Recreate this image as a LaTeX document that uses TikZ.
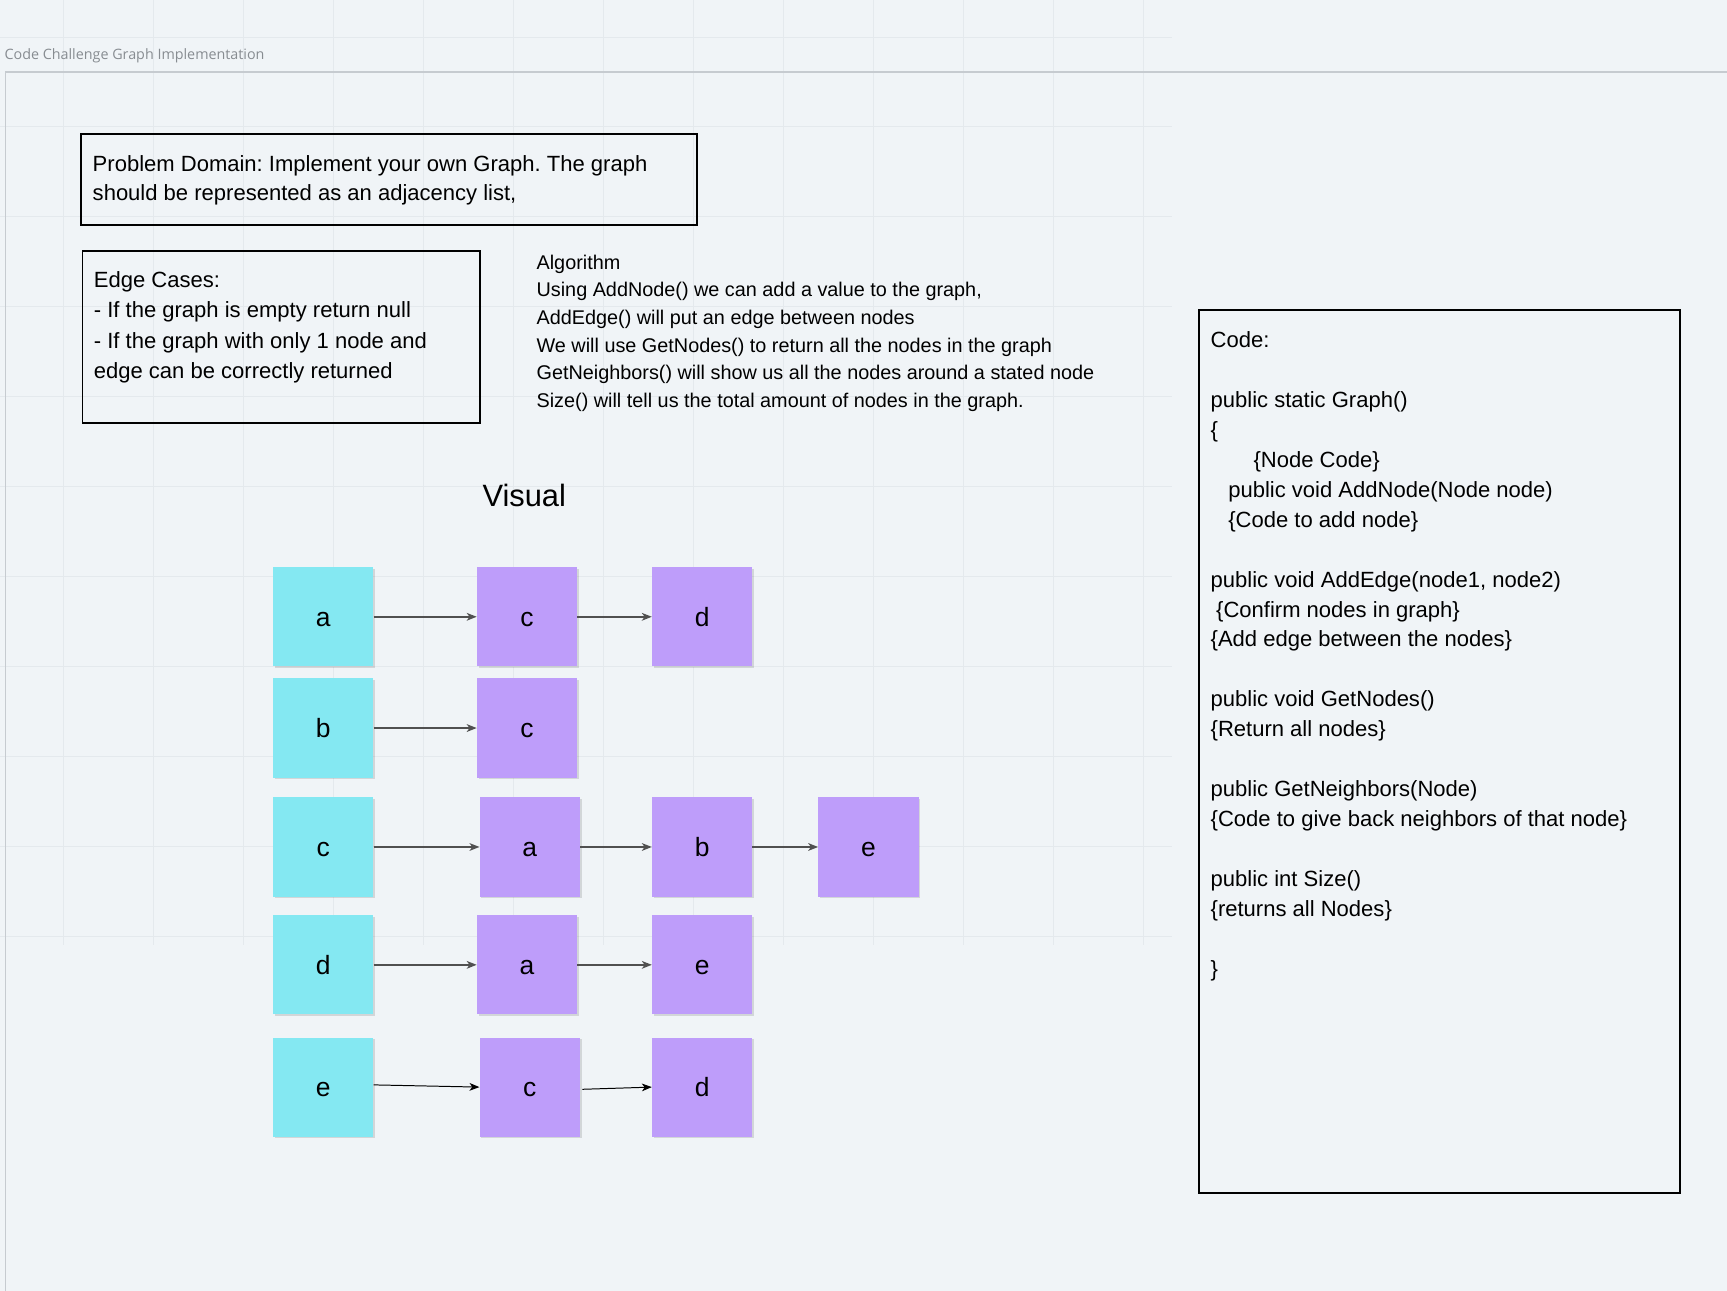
\documentclass[tikz,border=0pt]{standalone}
\usepackage{fontspec}
\setmainfont{Liberation Sans}
\newfontfamily\titlefont{Open Sans}
\usetikzlibrary{arrows.meta,shadows}
\definecolor{bg}{RGB}{240,244,247}
\definecolor{gridc}{RGB}{228,233,237}
\definecolor{framec}{RGB}{198,203,208}
\definecolor{titlec}{RGB}{135,140,145}
\definecolor{cyanbox}{RGB}{132,232,242}
\definecolor{purplebox}{RGB}{190,157,250}
\definecolor{arrowc}{RGB}{80,80,80}
\frenchspacing
\begin{document}
\begin{tikzpicture}[x=1pt,y=-1pt,
  gridline/.style={gridc, line width=0.9pt},
  framebox/.style={draw=black, line width=1.8pt, inner sep=0pt, anchor=north west},
  blocktext/.style={anchor=north west, inner sep=0pt, align=left},
  listnode/.style={minimum width=91pt, minimum height=90pt, inner sep=0pt,
    text height=17pt, text depth=0pt,
    font=\fontsize{24}{24}\selectfont,
    drop shadow={shadow xshift=1.5pt, shadow yshift=-1.5pt, opacity=0.12, fill=black}},
  keynode/.style={listnode, fill=cyanbox},
  valnode/.style={listnode, fill=purplebox},
  link/.style={draw=arrowc, line width=1.5pt, -{Stealth[length=9pt,width=7pt,inset=2.5pt]}},
  thinlink/.style={draw=black, line width=0.9pt, -{Stealth[length=9pt,width=7pt,inset=2.5pt]}}
]
\useasboundingbox (0,0) rectangle (1568,1172);
\fill[bg] (0,0) rectangle (1568,1172);
% faint grid
\foreach \i in {0,...,12} \draw[gridline] ({57.8+81.7*\i},0) -- ({57.8+81.7*\i},858);
\foreach \j in {0,...,10} \draw[gridline] (0,{33.6+81.7*\j}) -- (1064,{33.6+81.7*\j});
% frame
\draw[framec, line width=1.3pt] (5,1172) -- (5,65.4) -- (1568,65.4);
\node[anchor=base west, inner sep=0pt, font=\titlefont\fontsize{13}{13}\selectfont, text=titlec] (title) at (4,54) {Code Challenge Graph Implementation};

% problem domain
\node[framebox, minimum width=559pt, minimum height=82pt] (pdbox) at (73,121) {};
\node[blocktext, font=\fontsize{20}{27}\selectfont] (pdtext) at (84,140.7)
  {Problem Domain: Implement your own Graph. The graph\\should be represented as an adjacency list,};

% edge cases
\node[framebox, minimum width=361pt, minimum height=156pt] (ecbox) at (74,227) {};
\node[blocktext, font=\fontsize{20}{27.3}\selectfont] (ectext) at (85,246.7)
  {Edge Cases:\\- If the graph is empty return null\\- If the graph with only 1 node and\\edge can be correctly returned};

% algorithm
\node[blocktext, font=\fontsize{18}{25}\selectfont] (algo) at (487,231.4)
  {Algorithm\\Using AddNode() we can add a value to the graph,\\AddEdge() will put an edge between nodes\\We will use GetNodes() to return all the nodes in the graph\\GetNeighbors() will show us all the nodes around a stated node\\Size() will tell us the total amount of nodes in the graph.};

% code
\node[framebox, minimum width=436pt, minimum height=801pt] (codebox) at (1088,281) {};
\node[blocktext, font=\fontsize{20}{27.2}\selectfont] (code) at (1099,300.7)
  {Code:\\[27.2pt]
   public static Graph()\\
   \{\\
   \hspace*{39pt}\{Node Code\}\\
   \hspace*{16pt}public void AddNode(Node node)\\
   \hspace*{16pt}\{Code to add node\}\\[27.2pt]
   public void AddEdge(node1, node2)\\
   \hspace*{5pt}\{Confirm nodes in graph\}\\
   \{Add edge between the nodes\}\\[27.2pt]
   public void GetNodes()\\
   \{Return all nodes\}\\[27.2pt]
   public GetNeighbors(Node)\\
   \{Code to give back neighbors of that node\}\\[27.2pt]
   public int Size()\\
   \{returns all Nodes\}\\[27.2pt]
   \}};

% visual
\node[inner sep=0pt, font=\fontsize{28}{28}\selectfont] (visual) at (476,450) {Visual};

% adjacency list
\node[keynode] (ka) at (293.5,560) {a};
\node[valnode] (r1c1) at (478.5,560) {c};
\node[valnode] (r1c2) at (637.5,560) {d};

\node[keynode] (kb) at (293.5,661) {b};
\node[valnode] (r2c1) at (478.5,661) {c};

\node[keynode] (kc) at (293.5,769) {c};
\node[valnode] (r3c1) at (481,769) {a};
\node[valnode] (r3c2) at (637.5,769) {b};
\node[valnode] (r3c3) at (788.5,769) {e};

\node[keynode] (kd) at (293.5,876) {d};
\node[valnode] (r4c1) at (478.5,876) {a};
\node[valnode] (r4c2) at (637.5,876) {e};

\node[keynode] (ke) at (293.5,987) {e};
\node[valnode] (r5c1) at (481,987) {c};
\node[valnode] (r5c2) at (637.5,987) {d};

\draw[link] (ka) -- (r1c1);
\draw[link] (r1c1) -- (r1c2);
\draw[link] (kb) -- (r2c1);
\draw[link] (kc) -- (r3c1);
\draw[link] (r3c1) -- (r3c2);
\draw[link] (r3c2) -- (r3c3);
\draw[link] (kd) -- (r4c1);
\draw[link] (r4c1) -- (r4c2);
\draw[thinlink] ([yshift=2pt]ke.east) -- (r5c1.west);
\draw[thinlink] ([xshift=2pt,yshift=-2pt]r5c1.east) -- (r5c2.west);
\end{tikzpicture}
\end{document}
